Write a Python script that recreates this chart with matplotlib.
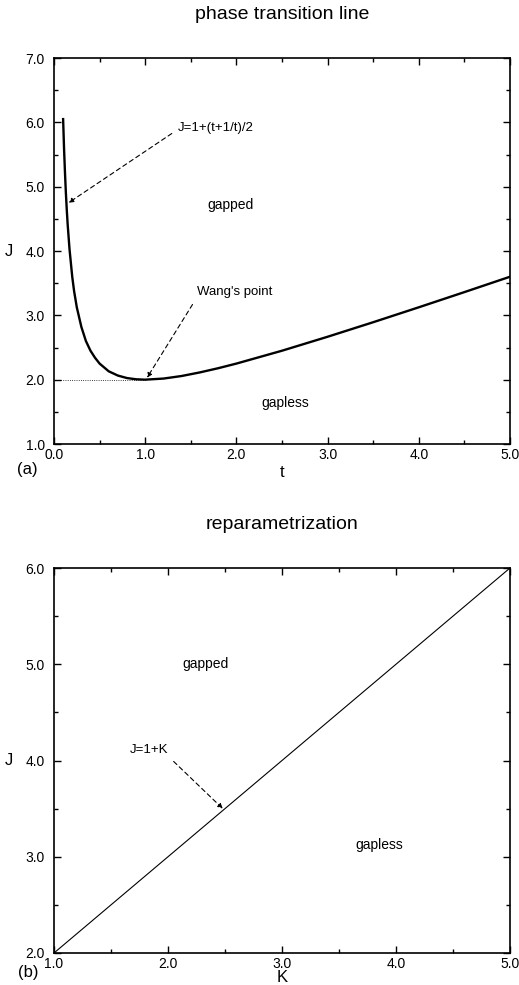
import matplotlib
matplotlib.use('Agg')
import matplotlib.pyplot as plt
from matplotlib.ticker import MultipleLocator, FormatStrFormatter

plt.rcParams['font.family'] = ['Liberation Sans', 'DejaVu Sans']

# panel (a): transition line
t_curve = [0.10, 0.11, 0.12, 0.13, 0.14, 0.15, 0.17, 0.20, 0.22, 0.25, 0.30,
           0.35, 0.40, 0.45, 0.50, 0.60, 0.70, 0.80, 0.90, 1.00, 1.20, 1.40,
           1.60, 1.80, 2.00, 2.50, 3.00, 3.50, 4.00, 4.50, 5.00]
J_curve = [6.05, 5.60, 5.23, 4.91, 4.64, 4.41, 4.03, 3.60, 3.38, 3.125, 2.82,
           2.60, 2.45, 2.34, 2.25, 2.13, 2.064, 2.025, 2.006, 2.00, 2.017, 2.057,
           2.113, 2.178, 2.25, 2.45, 2.667, 2.893, 3.125, 3.361, 3.60]
t_dotted = [0.0, 1.0]
J_dotted = [2.0, 2.0]

# panel (b): straight line J = 1 + K
K_line = [1.0, 5.0]
J_line = [2.0, 6.0]

fig = plt.figure(figsize=(5.19, 9.85), dpi=100)
ax1 = fig.add_axes([54/519, 1-444/985, 456/519, 386/985])
ax2 = fig.add_axes([54/519, 1-953/985, 456/519, 385/985])


def arrow(rel):
    return dict(arrowstyle='-|>', linestyle=(0, (4, 3)), lw=0.8, color='black',
                mutation_scale=7, shrinkA=3, shrinkB=0, relpos=rel)


def style(ax):
    for s in ax.spines.values():
        s.set_linewidth(1.2)
    ax.xaxis.set_major_locator(MultipleLocator(1.0))
    ax.xaxis.set_minor_locator(MultipleLocator(0.5))
    ax.yaxis.set_major_locator(MultipleLocator(1.0))
    ax.yaxis.set_minor_locator(MultipleLocator(0.5))
    ax.xaxis.set_major_formatter(FormatStrFormatter('%.1f'))
    ax.yaxis.set_major_formatter(FormatStrFormatter('%.1f'))
    ax.tick_params(which='both', direction='in', top=True, right=True,
                   labelsize=10, width=1.0)
    ax.tick_params(which='major', length=5)
    ax.tick_params(which='minor', length=3)
    ax.tick_params(axis='x', which='major', pad=3)
    ax.tick_params(axis='y', which='major', pad=6.5)


# (a)
ax1.plot(t_curve, J_curve, color='black', lw=1.7)
ax1.plot(t_dotted, J_dotted, color='black', lw=0.6, linestyle=':')
ax1.set_xlim(0, 5)
ax1.set_ylim(1, 7)
style(ax1)
ax1.set_title('phase transition line', fontsize=14, pad=28)
ax1.set_xlabel('t', fontsize=12, labelpad=2)
ax1.set_ylabel('J', fontsize=12, rotation=0, labelpad=12, va='center')
ax1.annotate('J=1+(t+1/t)/2', xy=(0.16, 4.75), xytext=(1.36, 5.91),
             fontsize=9.5, ha='left', va='center', arrowprops=arrow((0, 0.4)))
ax1.annotate("Wang's point", xy=(1.02, 2.03), xytext=(1.57, 3.36),
             fontsize=9.5, ha='left', va='center', arrowprops=arrow((0, 0.1)))
ax1.text(1.93, 4.71, 'gapped', fontsize=10, ha='center', va='center')
ax1.text(2.54, 1.64, 'gapless', fontsize=10, ha='center', va='center')
ax1.text(-0.035, -0.065, '(a)', transform=ax1.transAxes, fontsize=12,
         ha='right', va='center')

# (b)
ax2.plot(K_line, J_line, color='black', lw=0.8)
ax2.set_xlim(1, 5)
ax2.set_ylim(2, 6)
style(ax2)
ax2.set_title('reparametrization', fontsize=14, pad=28)
ax2.set_xlabel('K', fontsize=12, labelpad=-1)
ax2.set_ylabel('J', fontsize=12, rotation=0, labelpad=12, va='center')
ax2.annotate('J=1+K', xy=(2.48, 3.5), xytext=(1.83, 4.11),
             fontsize=9.5, ha='center', va='center', arrowprops=arrow((1, 0)))
ax2.text(2.33, 5.0, 'gapped', fontsize=10, ha='center', va='center')
ax2.text(3.85, 3.12, 'gapless', fontsize=10, ha='center', va='center')
ax2.text(-0.035, -0.05, '(b)', transform=ax2.transAxes, fontsize=12,
         ha='right', va='center')

fig.savefig('out.png', dpi=100)
